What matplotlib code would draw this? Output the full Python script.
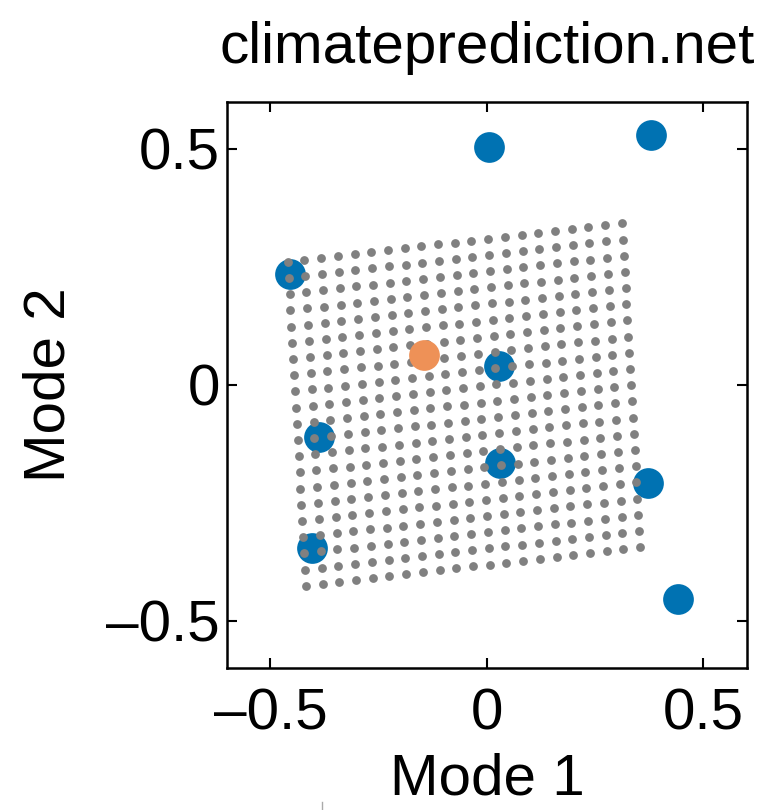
import numpy as np
import matplotlib
matplotlib.use("Agg")
import matplotlib.pyplot as plt
from matplotlib.lines import Line2D

plt.rcParams['font.family'] = ['Liberation Sans', 'DejaVu Sans']

# 21 x 21 design grid, projected onto the two modes
grid_levels = list(range(21))
grid_origin = [-0.460, 0.261]      # first row, first column
col_step = [0.03858, 0.004075]     # one step along a row
row_step = [0.0021, -0.03433]      # one step down a column

# ensemble members (blue)
member_x = [0.005, 0.379, -0.455, 0.028, -0.388, 0.030, 0.372, -0.404, 0.441]
member_y = [0.505, 0.529, 0.236, 0.040, -0.110, -0.166, -0.208, -0.346, -0.454]

# highlighted point (orange)
best_x = [-0.145]
best_y = [0.064]

title = "climateprediction.net"
xticks = [-0.5, 0, 0.5]
yticks = [-0.5, 0, 0.5]
ticklabels = ["\u20130.5", "0", "0.5"]

gi, gj = np.meshgrid(grid_levels, grid_levels)
grid_x = grid_origin[0] + gj * col_step[0] + gi * row_step[0]
grid_y = grid_origin[1] + gj * col_step[1] + gi * row_step[1]

fig = plt.figure(figsize=(7.62, 8.10), dpi=100)
ax = fig.add_axes([0.298, 0.1753, 0.682, 0.699])

ax.scatter(member_x, member_y, s=490, color='#0072B2', linewidths=0, zorder=1)
ax.scatter(grid_x.ravel(), grid_y.ravel(), s=40, color='#808080', linewidths=0, zorder=2)
ax.scatter(best_x, best_y, s=490, color='#EE9157', linewidths=0, zorder=3)

ax.set_xlim(-0.6, 0.6)
ax.set_ylim(-0.6, 0.6)
ax.set_xticks(xticks)
ax.set_yticks(yticks)
ax.set_xticklabels(ticklabels)
ax.set_yticklabels(ticklabels)

ax.tick_params(direction='in', length=7, width=1.5, top=True, right=True,
               labelsize=42)
ax.tick_params(axis='x', pad=14)
ax.tick_params(axis='y', pad=5)
for sp in ax.spines.values():
    sp.set_linewidth(1.8)

ax.set_title(title, fontsize=42, pad=28)
ax.set_xlabel("Mode 1", fontsize=42, labelpad=8)
ax.set_ylabel("Mode 2", fontsize=42)
ax.yaxis.set_label_coords(-0.29, 0.5)

# small stray mark below the axis
fig.add_artist(Line2D([322 / 762, 322 / 762], [0.0, 8 / 810],
                      color='#aaaaaa', linewidth=1))

fig.savefig("out.png", dpi=100)
